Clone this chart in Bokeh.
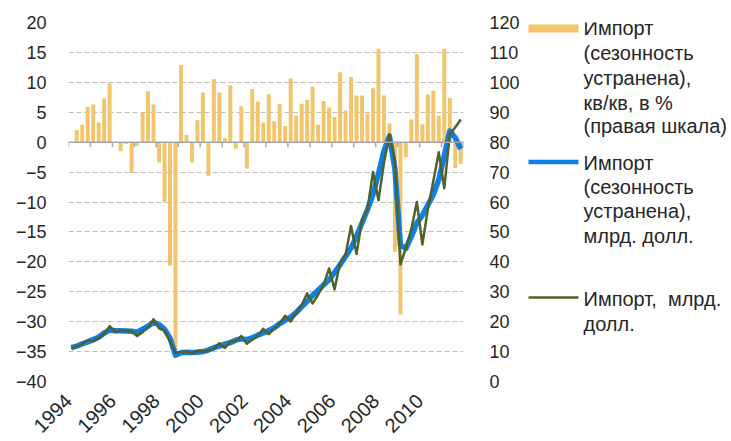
import math
from bokeh.plotting import figure
from bokeh.models import Range1d, LinearAxis, FixedTicker, Span
from bokeh.layouts import row
from bokeh.core.properties import value
from bokeh.embed import file_html
from bokeh.resources import INLINE

# ---------------- data ----------------
years = list(range(1994, 2012))          # quarterly data 1994Q1 .. 2011Q4
quarters = [1, 2, 3, 4]

# Import, seasonally adjusted, q/q, % (bars) - 1994Q1 has no value
imp_qq = [
    None, 2.0, 2.9, 5.9,      # 1994
    6.3, 3.3, 7.3, 9.8,       # 1995
    0.0, -1.5, -0.3, -5.1,    # 1996
    -0.6, 4.9, 8.5, 6.3,      # 1997
    -3.4, -10.0, -20.6, -34.8,  # 1998
    12.9, 1.2, -3.4, 3.7,     # 1999
    8.3, -5.6, 10.5, 8.3,     # 2000
    0.7, 9.5, -1.1, 6.0,      # 2001
    -4.4, 8.9, 6.8, 3.3,      # 2002
    8.0, 3.5, 6.4, 2.7,       # 2003
    10.7, 4.4, 6.4, 7.1,      # 2004
    9.3, 2.9, 6.9, 5.8,       # 2005
    4.2, 11.7, 5.3, 10.9,     # 2006
    7.8, 7.8, 4.8, 9.0,       # 2007
    15.6, 7.8, 3.1, -18.3,    # 2008
    -28.8, -2.5, 3.8, 14.7,   # 2009
    3.0, 8.0, 8.6, 4.4,       # 2010
    15.6, 7.4, -4.3, -3.6,    # 2011
]

# Import, seasonally adjusted, bn USD
imp_sa = [
    11.3, 11.8, 12.6, 13.2,
    14.0, 14.8, 16.2, 17.2,
    17.0, 17.0, 16.9, 16.8,
    16.5, 17.5, 18.5, 19.8,
    19.0, 17.5, 14.5, 8.8,
    9.6, 9.8, 9.7, 9.8,
    10.0, 10.5, 11.3, 11.8,
    12.5, 13.0, 13.8, 14.3,
    14.0, 14.6, 15.5, 16.2,
    17.0, 18.0, 19.3, 20.5,
    21.5, 23.0, 25.0, 26.8,
    28.8, 30.5, 32.3, 34.0,
    36.5, 39.0, 41.8, 44.6,
    48.5, 53.0, 57.5, 62.5,
    69.5, 77.0, 82.0, 71.0,
    45.5, 44.5, 48.5, 53.0,
    55.5, 59.0, 62.5, 67.5,
    75.5, 83.7, 81.5, 77.7,
]

# Import, bn USD (not adjusted)
imp_nsa = [
    11.0, 11.8, 12.5, 13.9,
    13.4, 14.5, 15.8, 18.5,
    16.5, 17.0, 17.0, 16.8,
    15.2, 16.5, 18.0, 20.8,
    17.8, 17.0, 13.5, 9.5,
    9.9, 10.0, 9.4, 10.3,
    10.0, 10.3, 11.0, 12.8,
    11.2, 13.4, 13.5, 15.2,
    12.6, 14.0, 15.2, 17.6,
    15.8, 17.6, 19.5, 22.0,
    20.0, 23.0, 25.5, 29.5,
    26.1, 29.0, 32.3, 37.8,
    30.8, 39.7, 42.4, 52.0,
    42.6, 54.0, 57.6, 70.0,
    60.6, 73.0, 82.6, 73.5,
    39.1, 44.6, 51.0, 60.0,
    45.8, 57.5, 67.0, 76.6,
    64.6, 82.6, 85.0, 87.6,
]

left_ticks = [-40, -35, -30, -25, -20, -15, -10, -5, 0, 5, 10, 15, 20]
right_ticks = [0, 10, 20, 30, 40, 50, 60, 70, 80, 90, 100, 110, 120]
year_labels = [1994, 1996, 1998, 2000, 2002, 2004, 2006, 2008, 2010]
year_ticks = list(range(1994, 2013))

legend_bar = ["Импорт", "(сезонность", "устранена),", "кв/кв, в %", "(правая шкала)"]
legend_sa = ["Импорт", "(сезонность", "устранена),", "млрд. долл."]
legend_nsa = ["Импорт,\u00a0 млрд.", "долл."]

# ---------------- styles ----------------
FONT = "Liberation Sans"
FS = "18px"
FS_X = "20px"
FS_LEG = "20px"
TXT = "#262626"
BAR_C = "#F2C46C"
BLUE_C = "#0F7FE8"
GREEN_C = "#4F6228"
GRID_C = "#BDBDBD"
AXIS_C = "#A6A6A6"

xq = [y + (q - 0.5) / 4 for y in years for q in quarters]
bx = [x for x, v in zip(xq, imp_qq) if v is not None]
bv = [v for v in imp_qq if v is not None]

p = figure(width=525, height=441, x_range=Range1d(1994, 2012), y_range=Range1d(-40, 20),
           output_backend="svg", toolbar_location=None,
           min_border_left=68, min_border_right=62, min_border_top=22, min_border_bottom=56)
p.outline_line_color = None
p.background_fill_color = "white"
p.border_fill_color = "white"
p.extra_y_ranges = {"right": Range1d(0, 120)}

# grid
p.xgrid.visible = False
p.ygrid.ticker = FixedTicker(ticks=left_ticks)
p.ygrid.grid_line_color = GRID_C
p.ygrid.grid_line_dash = "5 3"
p.ygrid.grid_line_width = 1

# bars
p.vbar(x=bx, top=bv, bottom=0, width=0.18, fill_color=BAR_C, line_color=None)

# zero axis line with year ticks
p.add_layout(Span(location=0, dimension="width", line_color=AXIS_C, line_width=1.5))
p.segment(x0=year_ticks, x1=year_ticks, y0=[0] * len(year_ticks), y1=[-0.85] * len(year_ticks),
          line_color=AXIS_C, line_width=1.5)

# lines
p.line(xq, imp_sa, y_range_name="right", line_color=BLUE_C, line_width=5.5, line_join="round")
p.line(xq, imp_nsa, y_range_name="right", line_color=GREEN_C, line_width=2.5, line_join="round")

# axes
def style_axis(ax, fs=FS):
    ax.axis_line_color = None
    ax.major_tick_line_color = None
    ax.minor_tick_line_color = None
    ax.major_label_text_font = FONT
    ax.major_label_text_font_size = fs
    ax.major_label_text_color = TXT

xa = p.xaxis[0]
xa.ticker = FixedTicker(ticks=year_labels)
xa.major_label_overrides = {y: str(y) for y in year_labels}
xa.major_label_orientation = math.pi / 4
xa.major_label_standoff = 10
style_axis(xa, FS_X)

ya = p.yaxis[0]
ya.ticker = FixedTicker(ticks=left_ticks)
ya.major_label_standoff = 16
style_axis(ya)

ra = LinearAxis(y_range_name="right", ticker=FixedTicker(ticks=right_ticks))
ra.major_label_standoff = 20
style_axis(ra)
p.add_layout(ra, "right")

# ---------------- legend panel ----------------
# frame of this panel is aligned with the chart frame (page y 22..385),
# so the y range is expressed in page pixels from the top
lg = figure(width=206, height=441, x_range=Range1d(0, 206), y_range=Range1d(385, 22),
            output_backend="svg", toolbar_location=None, x_axis_type=None, y_axis_type=None,
            min_border_left=0, min_border_right=0, min_border_top=22, min_border_bottom=56)
lg.outline_line_color = None
lg.xgrid.visible = False
lg.ygrid.visible = False

lg.rect(x=[28], y=[28], width=[50], height=[8], fill_color=BAR_C, line_color=None)
lg.line([3, 53], [163, 163], line_color=BLUE_C, line_width=4.5)
lg.line([3, 53], [300, 300], line_color=GREEN_C, line_width=2.5)

ys1 = [28, 53, 78, 103, 127]
ys2 = [164, 188, 213, 238]
ys3 = [302, 327]
for texts, ys in ((legend_bar, ys1), (legend_sa, ys2), (legend_nsa, ys3)):
    lg.text(x=[58] * len(texts), y=ys, text=texts, text_font=value(FONT), text_font_size=FS_LEG,
            text_color=TXT, text_baseline="middle", text_align="left")

layout = row(p, lg)
open("out.html", "w").write(file_html(layout, INLINE))
